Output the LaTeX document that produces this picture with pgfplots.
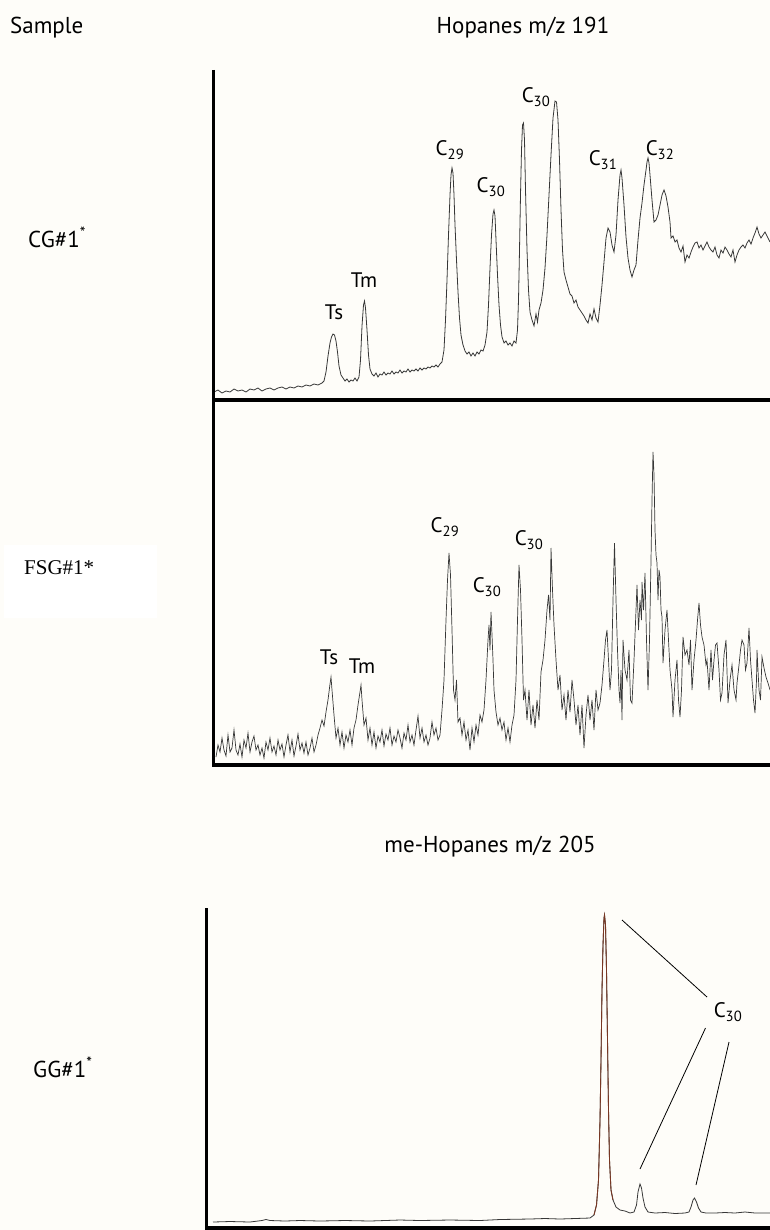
\documentclass[border=0pt]{standalone}
\usepackage{pgfplots}
\pgfplotsset{compat=1.18}
\usepackage{fontspec}
\setmainfont{PT Sans}
\newfontfamily\seriffont{Liberation Serif}
\definecolor{bgcol}{RGB}{254,253,249}
\definecolor{trace}{RGB}{55,55,55}
\definecolor{peakbrown}{RGB}{120,55,35}
\newcommand{\lab}{\fontsize{21}{24}\selectfont}
\newcommand{\ttl}{\fontsize{23}{27}\selectfont}
\begin{document}
\begin{tikzpicture}[x=1pt,y=1pt]
\fill[bgcol] (0pt,0pt) rectangle (770pt,-1230pt);
\useasboundingbox (0pt,0pt) rectangle (770pt,-1230pt);
\fill[white] (4pt,-545pt) rectangle (157pt,-618pt);
% titles and sample names
\node[anchor=west,inner sep=0pt] at (10pt,-28pt) {\ttl Sample};
\node[inner sep=0pt] at (523pt,-28pt) {\ttl Hopanes m/z 191};
\node[inner sep=0pt] at (490pt,-847pt) {\ttl me-Hopanes m/z 205};
\node[anchor=west,inner sep=0pt] at (28pt,-237pt) {\ttl CG\#1\textsuperscript{*}};
\node[anchor=west,inner sep=0pt] at (24pt,-568pt) {\seriffont\fontsize{21}{24}\selectfont FSG\#1*};
\node[anchor=west,inner sep=0pt] at (33pt,-1067pt) {\ttl GG\#1\textsuperscript{*}};

% ---------------- Panel 1 ----------------
\begin{axis}[at={(212pt,-70pt)}, anchor=north west, scale only axis,
  width=558pt, height=330pt, xmin=212, xmax=770, ymin=70, ymax=400,
  y dir=reverse, hide axis, clip=false]
\addplot[trace, line width=0.8pt, mark=none] coordinates {
(214,392) (218,390) (222,393) (226,391) (230,392) (234,389) (238,391) (242,390)
(246,392) (250,389) (254,390) (258,388) (262,391) (266,389) (270,388) (274,390)
(278,388) (282,387) (286,389) (290,387) (294,388) (298,386) (302,387) (306,385)
(310,386) (314,384) (318,385) (322,383) (324,381)
(326,372) (328,356) (330,343) (331.5,337) (333,334) (334.5,335) (336,341) (337.5,352)
(339,366) (341,375) (343,378) (345,381) (347,379) (349,382) (351,380) (353,381)
(355,378) (357,381) (359,377)
(360.5,360) (362,326) (363.5,305) (364.5,301) (365.5,308) (367,330) (368.5,355)
(370,369) (372,374) (374,376) (376,373) (378,377) (380,374) (382,375) (384,372)
(386,375) (388,373) (390,374) (392,371) (394,374) (396,372) (398,373) (400,370)
(402,373) (404,371) (406,372) (408,369) (410,372) (412,370) (414,371) (416,369)
(418,371) (420,368) (422,370) (424,368) (426,369) (428,367) (430,368) (432,366)
(434,367) (436,365) (438,367) (440,364) (442,362) (444,350)
(445.5,320) (447,280) (448.5,235) (450,195) (451,175) (452,168) (453,173) (454,195)
(455,225) (456.5,260) (458,292) (459.5,318) (461,335) (463,345) (465,351) (467,354)
(469,352) (471,356) (473,353) (475,356) (477,352) (479,354) (481,350) (483,351)
(485,345) (487,332) (488.5,305) (490,268) (491.5,235) (493,214) (494,210) (495,216)
(496,240) (497.5,275) (499,305) (500.5,325) (502,337) (504,343) (506,341) (508,345)
(510,343) (512,346) (514,341) (516,343) (517.5,330) (518.5,300) (519.5,250)
(520.5,195) (521.5,150) (522.5,125) (523.5,123) (524.5,140) (525.5,190) (527,250)
(528.5,290) (530,312) (532,320) (534,326) (536,314) (537.5,322) (539,310) (541,303)
(543,290) (545,268) (547,235) (549,195) (551,155) (553,118) (555,101) (556.5,102)
(558,120) (559.5,160) (561,210) (562.5,250) (564,272) (566,280) (568,287) (570,294)
(572,296) (574,303) (576,300) (578,307) (580,310) (582,313) (584,316) (586,320)
(588,323) (590,314) (592,320) (594,309) (596,318) (598,322) (600,305) (602,285)
(604,262) (606,238) (608,228) (610,232) (612,245) (614,252) (616,235) (618,200)
(620,175) (621,170) (622,178) (624,205) (626,237) (628,258) (630,270) (632,277)
(634,270) (636,265) (638,240) (640,218) (642,203) (644,185) (646,170) (647,162)
(648,158) (649,163) (650,175) (652,200) (654,222) (656,220) (658,215) (660,205)
(662,195) (664,190) (666,196) (668,207) (670,222) (671,238) (673,236) (675,242)
(677,240) (679,248) (681,252) (683,246) (685,262) (687,255) (689,258) (691,252)
(693,247) (695,243) (697,242) (699,248) (701,245) (703,250) (705,246) (707,242)
(709,247) (711,250) (713,252) (715,247) (717,255) (719,258) (721,250) (723,253)
(725,247) (727,250) (729,254) (731,257) (733,250) (735,262) (737,255) (739,250)
(741,247) (743,245) (745,248) (747,243) (749,240) (751,244) (753,238) (755,233)
(757,227) (759,234) (761,238) (763,235) (765,232) (767,236) (769,240) (770,242)
};
\draw[line width=3.5pt] (axis cs:213.5,70) -- (axis cs:213.5,400);
\draw[line width=3.5pt] (axis cs:212,400) -- (axis cs:770,400);
\node[inner sep=0pt] at (axis cs:334,312) {\lab Ts};
\node[inner sep=0pt] at (axis cs:364,280) {\lab Tm};
\node[inner sep=0pt] at (axis cs:450,150) {\lab C\textsubscript{29}};
\node[inner sep=0pt] at (axis cs:491,187) {\lab C\textsubscript{30}};
\node[inner sep=0pt] at (axis cs:536,97) {\lab C\textsubscript{30}};
\node[inner sep=0pt] at (axis cs:603,160) {\lab C\textsubscript{31}};
\node[inner sep=0pt] at (axis cs:660,150) {\lab C\textsubscript{32}};
\end{axis}

% ---------------- Panel 2 ----------------
\begin{axis}[at={(212pt,-400pt)}, anchor=north west, scale only axis,
  width=558pt, height=366pt, xmin=212, xmax=770, ymin=400, ymax=766,
  y dir=reverse, hide axis, clip=false]
\addplot[trace, line width=0.7pt, mark=none] coordinates {
(216,757) (218,745) (220,752) (222,738) (224,750) (226,756) (228,735) (230,752)
(232,748) (234,730) (236,750) (238,755) (240,744) (242,757) (244,740) (246,748)
(248,733) (250,752) (252,742) (254,736) (256,750) (258,745) (260,755) (262,748)
(264,758) (266,742) (268,750) (270,738) (272,752) (274,746) (276,755) (278,740)
(280,750) (282,744) (284,757) (286,745) (288,735) (290,752) (292,740) (294,756)
(296,746) (298,734) (300,750) (302,743) (304,753) (306,742) (308,755) (310,748)
(312,738) (314,752) (316,745) (318,735) (320,728) (322,720) (324,726) (326,712)
(328,700) (330,684) (331,677) (332,690) (334,715) (336,738) (338,728) (340,745)
(342,732) (344,748) (346,735) (348,742) (350,730) (352,745) (354,728) (356,720)
(358,705) (360,692) (361,685) (362,700) (364,725) (366,718) (368,740) (370,728)
(372,745) (374,732) (376,748) (378,736) (380,742) (382,730) (384,746) (386,734)
(388,740) (390,728) (392,745) (394,736) (396,742) (398,730) (400,738) (402,748)
(404,733) (406,740) (408,725) (410,742) (412,735) (414,745) (416,730) (418,716)
(420,738) (422,728) (424,742) (426,735) (428,745) (430,738) (432,722) (434,735)
(436,728) (438,740) (440,735) (442,710) (444,680) (446,620) (447.5,580) (449,553)
(450.5,575) (452,630) (453.5,690) (455,700) (456.5,680) (458,722) (460,718)
(462,735) (464,722) (466,740) (468,730) (470,750) (472,728) (474,742) (476,725)
(478,735) (480,715) (482,722) (484,710) (486,680) (488,640) (489,625) (490,650)
(491,612) (492,635) (493,660) (494,690) (496,712) (498,725) (500,718) (502,730)
(504,722) (506,740) (508,728) (510,742) (512,725) (514,715) (516,680) (517.5,620)
(519,565) (520.5,590) (522,640) (523.5,700) (525,690) (527,720) (529,690) (531,725)
(533,705) (535,728) (537,700) (539,720) (541,672) (543,660) (545,640) (547,610)
(548.5,595) (550,620) (551,548) (552.5,590) (554,625) (556,660) (558,690) (560,675)
(562,710) (564,695) (566,720) (568,690) (570,712) (572,680) (574,700) (576,725)
(578,705) (580,735) (582,705) (584,748) (586,715) (588,695) (590,720) (592,700)
(594,730) (596,690) (598,710) (600,703) (602,685) (604,660) (605.5,640) (607,630)
(608.5,660) (610,690) (611.5,670) (613,600) (614.5,543) (616,600) (617.5,650)
(619,690) (620,703) (621,670) (622,720) (623,640) (625,670) (627,680) (629,650)
(630.5,700) (632,703) (634,660) (636,610) (637,585) (638.5,630) (640,600)
(641.5,620) (642,582) (643.5,610) (645,573) (646.5,640) (648,690) (649.5,640)
(651,560) (652,500) (653,452) (654,475) (655,530) (656,555) (657,563) (658,600)
(659,570) (660,577) (661,610) (662,617) (663,663) (665,630) (667,610) (669,650)
(670,670) (672,690) (673,717) (675,680) (677,660) (678.5,700) (680,717) (681.5,690)
(683,637) (685,655) (687,650) (689,665) (690.5,640) (692,690) (694,660) (696,640)
(697.5,620) (699,603) (700.5,625) (702,637) (704,645) (706,665) (707,660) (709,690)
(711,650) (712.5,680) (714,660) (715.5,645) (717,643) (719,670) (720.5,700)
(722,693) (724,655) (726,640) (728,703) (730,680) (732,665) (734,690) (736,700)
(737,683) (739,665) (740.5,650) (742,640) (744,645) (745.5,670) (747,663) (749,628)
(750.5,660) (752,680) (753.5,700) (755,713) (756.5,680) (757,650) (759,690)
(760.5,700) (762,657) (764,668) (766,677) (768,683) (770,690)
};
\draw[line width=3.5pt] (axis cs:213.5,400) -- (axis cs:213.5,766);
\draw[line width=3.5pt] (axis cs:212,765) -- (axis cs:770,765);
\node[inner sep=0pt] at (axis cs:329,657) {\lab Ts};
\node[inner sep=0pt] at (axis cs:362,666) {\lab Tm};
\node[inner sep=0pt] at (axis cs:445,527) {\lab C\textsubscript{29}};
\node[inner sep=0pt] at (axis cs:487,587) {\lab C\textsubscript{30}};
\node[inner sep=0pt] at (axis cs:529,540) {\lab C\textsubscript{30}};
\end{axis}

% ---------------- Panel 3 ----------------
\begin{axis}[at={(205pt,-908pt)}, anchor=north west, scale only axis,
  width=565pt, height=322pt, xmin=205, xmax=770, ymin=908, ymax=1230,
  y dir=reverse, hide axis, clip=false]
\addplot[trace, line width=0.8pt, mark=none] coordinates {
(213,1222) (230,1221.5) (250,1222) (262,1220.5) (266,1219.5) (270,1220.5)
(285,1221) (300,1220.5) (320,1221) (345,1220.5) (370,1221) (400,1220)
(420,1220.5) (450,1220) (480,1220.5) (500,1219.5) (530,1219) (545,1218.5)
(560,1219) (575,1218.5) (590,1218) (594,1215) (596.5,1205) (598.5,1180)
(600,1120) (601,1060) (602,990) (603,945) (604,918) (604.5,915) (605.5,925)
(606.5,970) (607.5,1040) (608.5,1110) (609.5,1160) (611,1190) (613,1200)
(616,1207) (620,1210) (625,1211) (630,1213) (634,1212) (636.5,1205) (638,1192)
(640,1184) (641.5,1188) (643,1198) (645,1207) (648,1212) (655,1213)
(665,1212.5) (675,1213.5) (685,1213) (689,1212) (691,1207) (693,1200)
(694.5,1198) (696.5,1202) (698.5,1208) (701,1212) (706,1213) (715,1213)
(725,1212.5) (735,1213) (745,1212) (755,1213) (770,1213)
};
\addplot[peakbrown, line width=0.9pt, mark=none] coordinates {
(594,1215) (596.5,1205) (598.5,1180) (600,1120) (601,1060) (602,990) (603,945)
(604,918) (604.5,915) (605.5,925) (606.5,970) (607.5,1040) (608.5,1110)
(609.5,1160) (611,1190) (613,1200)
};
\draw[line width=3.5pt] (axis cs:206.5,908) -- (axis cs:206.5,1230);
\draw[line width=3.5pt] (axis cs:205,1228) -- (axis cs:770,1228);
\draw[line width=0.8pt] (axis cs:622,920) -- (axis cs:707,997);
\draw[line width=0.8pt] (axis cs:705.5,1028) -- (axis cs:640,1169);
\draw[line width=0.8pt] (axis cs:729,1042) -- (axis cs:696,1185);
\node[inner sep=0pt] at (axis cs:728,1012) {\lab C\textsubscript{30}};
\end{axis}
\end{tikzpicture}
\end{document}
